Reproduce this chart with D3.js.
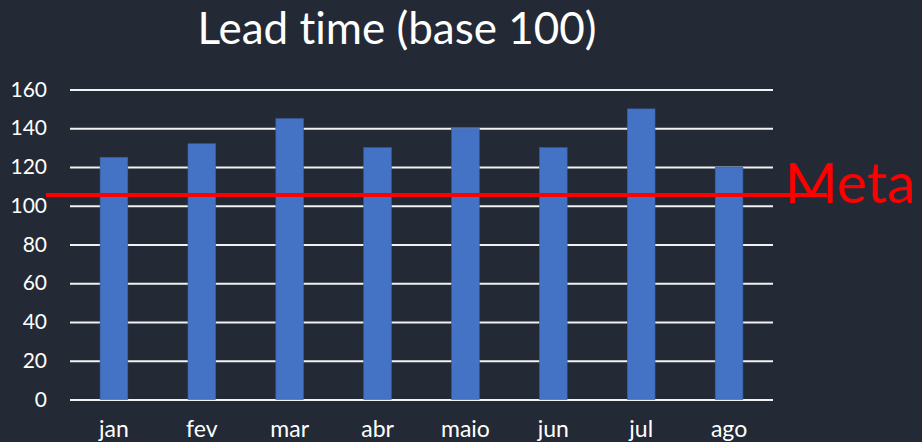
<!DOCTYPE html>
<html>
<head>
<meta charset="utf-8">
<script src="https://cdn.jsdelivr.net/npm/d3@7"></script>
<style>
  body { margin: 0; background: #232a35; }
  svg { display: block; }
  text { font-variant-ligatures: none; }
</style>
</head>
<body>
<div id="chart-holder"></div>
<script>
// chart data
var months = ["jan", "fev", "mar", "abr", "maio", "jun", "jul", "ago"];
var leadTime = [125, 132, 145, 130, 140, 130, 150, 120];
var yTicks = [0, 20, 40, 60, 80, 100, 120, 140, 160];
var metaValue = 105.5;
var metaLabel = "Meta";
var title = "Lead time (base 100)";

// dimensions
var W = 922, H = 442;
var margin = {top: 89.5, right: 149, bottom: 42.5, left: 70},
    width = W - margin.left - margin.right,
    height = H - margin.top - margin.bottom;

var svg = d3.select("#chart-holder")
  .append("svg")
    .attr("width", W)
    .attr("height", H);

svg.append("rect")
  .attr("width", W)
  .attr("height", H)
  .attr("fill", "#232a35");

var g = svg.append("g")
  .attr("transform", "translate(" + margin.left + "," + margin.top + ")");

// scales
var x = d3.scaleBand()
  .domain(months)
  .range([0, width])
  .paddingInner(0.685)
  .paddingOuter(0.3425);

var y = d3.scaleLinear()
  .domain([0, 160])
  .range([height, 0]);

// title
svg.append("text")
  .attr("x", 397)
  .attr("y", 44)
  .attr("text-anchor", "middle")
  .style("font-family", "Lato, 'Open Sans', sans-serif")
  .style("font-size", "44px")
  .attr("fill", "#ffffff")
  .text(title);

// gridlines
g.append("g")
  .call(d3.axisLeft(y).tickValues(yTicks).tickSize(-width).tickFormat(""))
  .call(function(a) { a.select(".domain").remove(); })
  .selectAll("line")
    .attr("stroke", "#f2f2f2")
    .attr("stroke-width", 2);

// y-axis labels
g.append("g")
  .call(d3.axisLeft(y).tickValues(yTicks).tickSize(0).tickPadding(23))
  .call(function(a) { a.select(".domain").remove(); })
  .selectAll("text")
    .style("font-family", "Lato, 'Open Sans', sans-serif")
    .style("font-size", "21px")
    .attr("fill", "#ffffff");

// x-axis labels
g.append("g")
  .attr("transform", "translate(0," + height + ")")
  .call(d3.axisBottom(x).tickSize(0).tickPadding(0))
  .call(function(a) { a.select(".domain").remove(); })
  .selectAll("text")
    .attr("dy", null)
    .attr("y", 37)
    .style("font-family", "Lato, 'Open Sans', sans-serif")
    .style("font-size", "23px")
    .attr("fill", "#ffffff");

// bars
g.selectAll("rect.bar")
  .data(months)
  .enter()
  .append("rect")
    .attr("class", "bar")
    .attr("x", function(d) { return x(d); })
    .attr("y", function(d, i) { return y(leadTime[i]); })
    .attr("width", x.bandwidth())
    .attr("height", function(d, i) { return height - y(leadTime[i]); })
    .attr("fill", "#4472c4")
    .attr("stroke", "#3a5f9f")
    .attr("stroke-width", 0.6);

// meta line
g.append("line")
  .attr("x1", -24)
  .attr("x2", width + 54)
  .attr("y1", y(metaValue))
  .attr("y2", y(metaValue))
  .attr("stroke", "#ff0000")
  .attr("stroke-width", 4);

g.append("text")
  .attr("x", width + 12)
  .attr("y", y(metaValue) + 8)
  .style("font-family", "Lato, 'Open Sans', sans-serif")
  .style("font-size", "57px")
  .attr("fill", "#ff0000")
  .text(metaLabel);
</script>
</body>
</html>
